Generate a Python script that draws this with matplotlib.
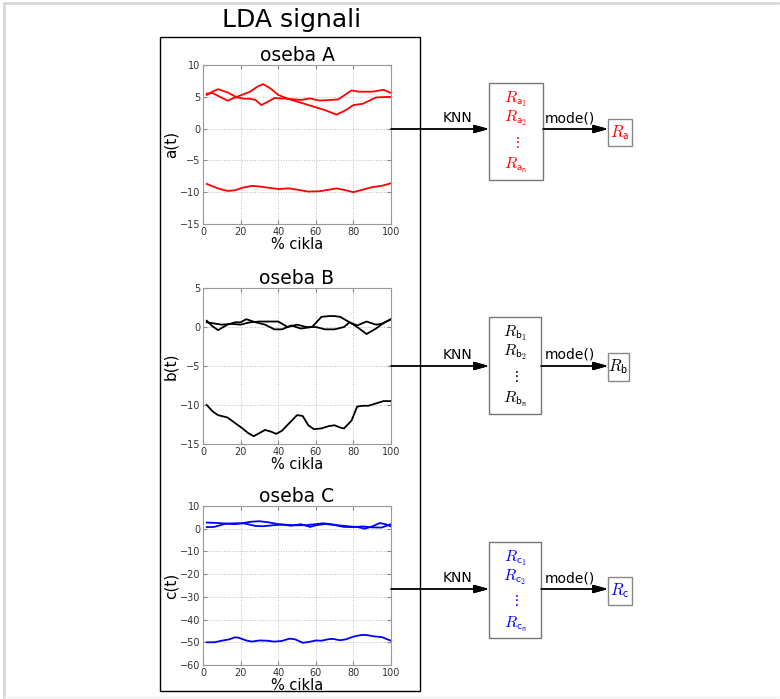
import matplotlib.pyplot as plt
from matplotlib.patches import Rectangle

plt.rcParams['mathtext.fontset'] = 'cm'

# ==============================================================
# DATA
# ==============================================================

x_a1 = [2, 5, 8, 13, 18, 22, 25, 28, 31, 35, 38, 45, 52, 57, 62, 68, 72, 76, 79, 83, 90, 96, 100]
a1 = [5.3, 5.8, 6.2, 5.7, 4.9, 4.7, 4.7, 4.5, 3.7, 4.3, 4.8, 4.7, 4.5, 4.75, 4.4, 4.5, 4.6, 5.4, 6.0, 5.8, 5.8, 6.1, 5.6]

x_a2 = [2, 5, 9, 13, 18, 25, 29, 32, 36, 40, 45, 55, 65, 71, 76, 80, 85, 92, 100]
a2 = [5.5, 5.6, 5.0, 4.4, 5.0, 5.8, 6.6, 7.0, 6.3, 5.3, 4.7, 3.8, 2.9, 2.2, 2.9, 3.7, 3.9, 4.9, 5.0]

x_a3 = [2, 8, 13, 17, 21, 26, 30, 35, 40, 46, 50, 56, 62, 67, 71, 76, 80, 85, 90, 95, 100]
a3 = [-8.7, -9.4, -9.8, -9.7, -9.3, -9.0, -9.1, -9.3, -9.5, -9.4, -9.6, -9.9, -9.85, -9.6, -9.4, -9.7, -10.0, -9.6, -9.2, -9.0, -8.6]

x_b1 = [2, 5, 8, 13, 17, 20, 23, 28, 33, 38, 42, 47, 52, 58, 63, 67, 70, 73, 78, 82, 87, 92, 95, 100]
b1 = [0.8, 0.1, -0.4, 0.3, 0.6, 0.6, 1.0, 0.6, 0.3, -0.3, -0.3, 0.2, -0.2, 0.0, 1.3, 1.4, 1.4, 1.3, 0.6, 0.2, 0.7, 0.3, 0.4, 1.0]

x_b2 = [2, 10, 15, 20, 25, 30, 35, 40, 45, 50, 55, 60, 65, 70, 75, 78, 82, 87, 92, 96, 100]
b2 = [0.6, 0.3, 0.4, 0.3, 0.6, 0.7, 0.7, 0.7, 0.0, 0.3, 0.0, 0.0, -0.3, -0.3, 0.0, 0.6, 0.0, -0.9, -0.2, 0.5, 1.0]

x_b3 = [2, 5, 8, 13, 17, 21, 24, 27, 30, 33, 36, 39, 42, 46, 50, 53, 56, 59, 63, 67, 70, 73, 75, 79, 82, 85, 88, 92, 96, 100]
b3 = [-10.0, -10.8, -11.3, -11.6, -12.3, -13.0, -13.6, -14.0, -13.6, -13.2, -13.4, -13.7, -13.3, -12.3, -11.3, -11.4, -12.6, -13.1, -13.0, -12.7, -12.6, -12.9, -13.0, -12.0, -10.2, -10.1, -10.1, -9.8, -9.5, -9.5]

x_c1 = [2, 8, 13, 17, 22, 26, 30, 35, 40, 45, 50, 55, 60, 64, 68, 72, 78, 82, 86, 90, 94, 97, 100]
c1 = [2.7, 2.5, 2.2, 2.0, 2.6, 3.1, 3.3, 2.8, 2.0, 1.7, 1.5, 1.6, 2.0, 2.4, 2.0, 1.5, 1.0, 0.8, 0.0, 1.0, 2.5, 2.0, 1.0]

x_c2 = [2, 6, 12, 18, 22, 28, 32, 37, 42, 47, 52, 57, 60, 65, 70, 75, 80, 85, 90, 95, 100]
c2 = [0.7, 0.8, 2.2, 2.4, 2.3, 1.2, 1.1, 1.5, 1.8, 1.3, 2.0, 0.8, 1.5, 2.1, 1.6, 0.8, 0.7, 1.0, 0.6, 0.5, 2.0]

x_c3 = [2, 6, 10, 14, 17, 19, 23, 26, 30, 34, 38, 42, 46, 49, 53, 56, 60, 63, 67, 69, 73, 76, 80, 84, 87, 91, 95, 100]
c3 = [-50.0, -50.0, -49.3, -48.7, -47.8, -48.0, -49.2, -49.7, -49.2, -49.3, -49.7, -49.4, -48.4, -48.7, -50.2, -49.9, -49.2, -49.3, -48.6, -48.5, -49.1, -48.7, -47.5, -46.8, -46.8, -47.4, -47.7, -49.3]

panels = ['A', 'B', 'C']
letters = ['a', 'b', 'c']
colors = ['red', 'black', 'blue']
series = [
    [(x_a1, a1), (x_a2, a2), (x_a3, a3)],
    [(x_b1, b1), (x_b2, b2), (x_b3, b3)],
    [(x_c1, c1), (x_c2, c2), (x_c3, c3)],
]
ylims = [(-15, 10), (-15, 5), (-60, 10)]
ysteps = [5, 5, 10]
xticks = [0, 20, 40, 60, 80, 100]

# ==============================================================
# LAYOUT (pixel positions, top-left origin)
# ==============================================================

W, H = 780, 699
fig = plt.figure(figsize=(W / 100, H / 100), dpi=100)


def fx(x):
    return x / W


def fy(y):
    return 1 - y / H


axes_top = [65, 288, 506]
axes_bot = [224, 444, 665]
row_y = [129, 366, 589]
box_top = [83, 317, 542]
box_bot = [180, 414, 638]
small_top = [119, 353, 577]
small_bot = [146, 381, 605]
small_right = [632, 629, 632]
box_right = [543, 541, 541]

arrow = dict(arrowstyle='-|>,head_length=0.9,head_width=0.25', color='black',
             lw=1, mutation_scale=10, shrinkA=0, shrinkB=0)

# outer light frame
fig.add_artist(plt.Line2D([fx(4), fx(4)], [fy(3), fy(697)], color='#d8d8d8', lw=2))
fig.add_artist(plt.Line2D([fx(4), fx(778)], [fy(3), fy(3)], color='#d8d8d8', lw=2))
fig.add_artist(plt.Line2D([fx(4), fx(778)], [fy(697), fy(697)], color='#f0f0f0', lw=1))

# big rectangle around plots
fig.add_artist(Rectangle((fx(160), fy(691)), fx(420) - fx(160), fy(37) - fy(691),
                         transform=fig.transFigure, fill=False, ec='black', lw=1))
fig.text(fx(292), fy(20), 'LDA signali', fontsize=18, ha='center', va='center')

for i in range(3):
    ax = fig.add_axes([fx(203), fy(axes_bot[i]), fx(391) - fx(203),
                       fy(axes_top[i]) - fy(axes_bot[i])])
    for xs, ys in series[i]:
        ax.plot(xs, ys, color=colors[i], lw=1.3)
    ax.set_xlim(0, 100)
    ax.set_ylim(*ylims[i])
    ax.set_xticks(xticks)
    ax.set_yticks(range(ylims[i][0], ylims[i][1] + 1, ysteps[i]))
    ax.grid(True, linestyle=':', color='#bbbbbb', lw=0.7)
    ax.tick_params(direction='in', length=3, labelsize=7, labelcolor='#333333',
                   color='#888888', top=True, right=True, pad=2)
    for s in ax.spines.values():
        s.set_color('#999999')
    ax.set_title('oseba ' + panels[i], fontsize=13.5, pad=3)
    ax.set_xlabel('% cikla', fontsize=10.5, labelpad=0)
    ax.set_ylabel(letters[i] + '(t)', fontsize=11, labelpad=1)

    y = row_y[i]
    c = colors[i]
    l = letters[i]

    # KNN arrow
    fig.add_artist(plt.annotate('', xy=(fx(489), fy(y)), xytext=(fx(391), fy(y)),
                                xycoords='figure fraction', textcoords='figure fraction',
                                arrowprops=arrow))
    fig.text(fx(457), fy(y - 11), 'KNN', fontsize=10, ha='center', va='center')

    # box with results
    fig.add_artist(Rectangle((fx(489), fy(box_bot[i])), fx(box_right[i]) - fx(489),
                             fy(box_top[i]) - fy(box_bot[i]),
                             transform=fig.transFigure, fill=False, ec='#777777', lw=1))
    bt = box_top[i]
    cx = fx((489 + box_right[i]) / 2)
    fig.text(cx, fy(bt + 16), r'$R_{\mathsf{%s}_\mathsf{1}}$' % l, color=c, fontsize=11.5, ha='center', va='center')
    fig.text(cx, fy(bt + 35), r'$R_{\mathsf{%s}_\mathsf{2}}$' % l, color=c, fontsize=11.5, ha='center', va='center')
    fig.text(cx, fy(bt + 59), r'$\vdots$', color=c, fontsize=11, ha='center', va='center')
    fig.text(cx, fy(bt + 82), r'$R_{\mathsf{%s}_\mathsf{n}}$' % l, color=c, fontsize=11.5, ha='center', va='center')

    # mode arrow
    fig.add_artist(plt.annotate('', xy=(fx(608), fy(y)), xytext=(fx(box_right[i]), fy(y)),
                                xycoords='figure fraction', textcoords='figure fraction',
                                arrowprops=arrow))
    fig.text(fx(570), fy(y - 11), 'mode()', fontsize=10, ha='center', va='center')

    fig.add_artist(Rectangle((fx(608), fy(small_bot[i])), fx(small_right[i]) - fx(608),
                             fy(small_top[i]) - fy(small_bot[i]),
                             transform=fig.transFigure, fill=False, ec='#888888', lw=1))
    fig.text(fx((608 + small_right[i]) / 2), fy((small_top[i] + small_bot[i]) / 2),
             r'$R_{\mathsf{%s}}$' % l, color=c, fontsize=12, ha='center', va='center')

fig.savefig('out.png', dpi=100)
